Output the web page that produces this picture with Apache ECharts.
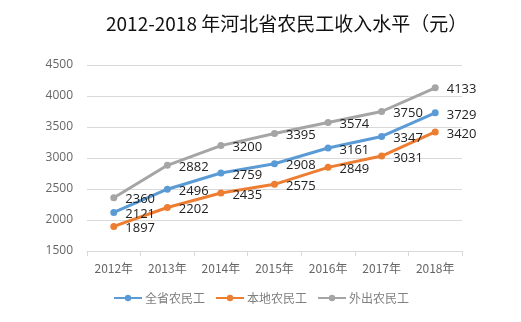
<!DOCTYPE html>
<html><head><meta charset="utf-8">
<script src="https://cdn.jsdelivr.net/npm/echarts@6/dist/echarts.min.js"></script>
<style>html,body{margin:0;padding:0;background:#fff}#c{width:521px;height:322px}</style>
</head><body><div id="c"></div>
<script>
const categories = ['2012年','2013年','2014年','2015年','2016年','2017年','2018年'];
const allProvince = [2121,2496,2759,2908,3161,3347,3729];
const local = [1897,2202,2435,2575,2849,3031,3420];
const migrant = [2360,2882,3200,3395,3574,3750,4133];
const seriesNames = ['全省农民工','本地农民工','外出农民工'];
const colors = ['#5B9BD5','#ED7D31','#A5A5A5'];
const font = '"Noto Sans CJK SC", sans-serif';
function mk(name, data, color){
  return {name, type:'line', data, symbol:'circle', symbolSize:7,
    lineStyle:{width:3,color}, itemStyle:{color},
    label:{show:true, position:'right', offset:[3,2], color:'#222', fontSize:13, fontFamily:'"Open Sans", sans-serif'}};
}
const chart = echarts.init(document.getElementById('c'));
chart.setOption({
  animation:false,
  color:colors,
  title:{text:'2012-2018 年河北省农民工收入水平（元）', left:101, top:9,
    textStyle:{fontSize:19, fontWeight:'normal', color:'#111', fontFamily:font}},
  grid:{left:87, right:59, top:65, bottom:71},
  legend:{top:287, left:108, itemWidth:28, itemHeight:8, itemGap:10,
    textStyle:{color:'#808080', fontSize:12, fontFamily:font, padding:[0,0,0,-2]},
    data:seriesNames},
  xAxis:{type:'category', data:categories, boundaryGap:true,
    axisLine:{lineStyle:{color:'#D9D9D9'}}, axisTick:{show:true, lineStyle:{color:'#D9D9D9'}},
    axisLabel:{color:'#666', fontSize:12, fontFamily:font, margin:11}},
  yAxis:{type:'value', min:1500, max:4500, interval:500,
    axisLine:{show:false}, axisTick:{show:false},
    splitLine:{lineStyle:{color:'#D9D9D9'}},
    axisLabel:{color:'#666', fontSize:12, fontFamily:'"Open Sans", sans-serif', margin:14, formatter:v=>String(v)}},
  series:[mk(seriesNames[0], allProvince, colors[0]), mk(seriesNames[1], local, colors[1]), mk(seriesNames[2], migrant, colors[2])]
});
</script></body></html>
